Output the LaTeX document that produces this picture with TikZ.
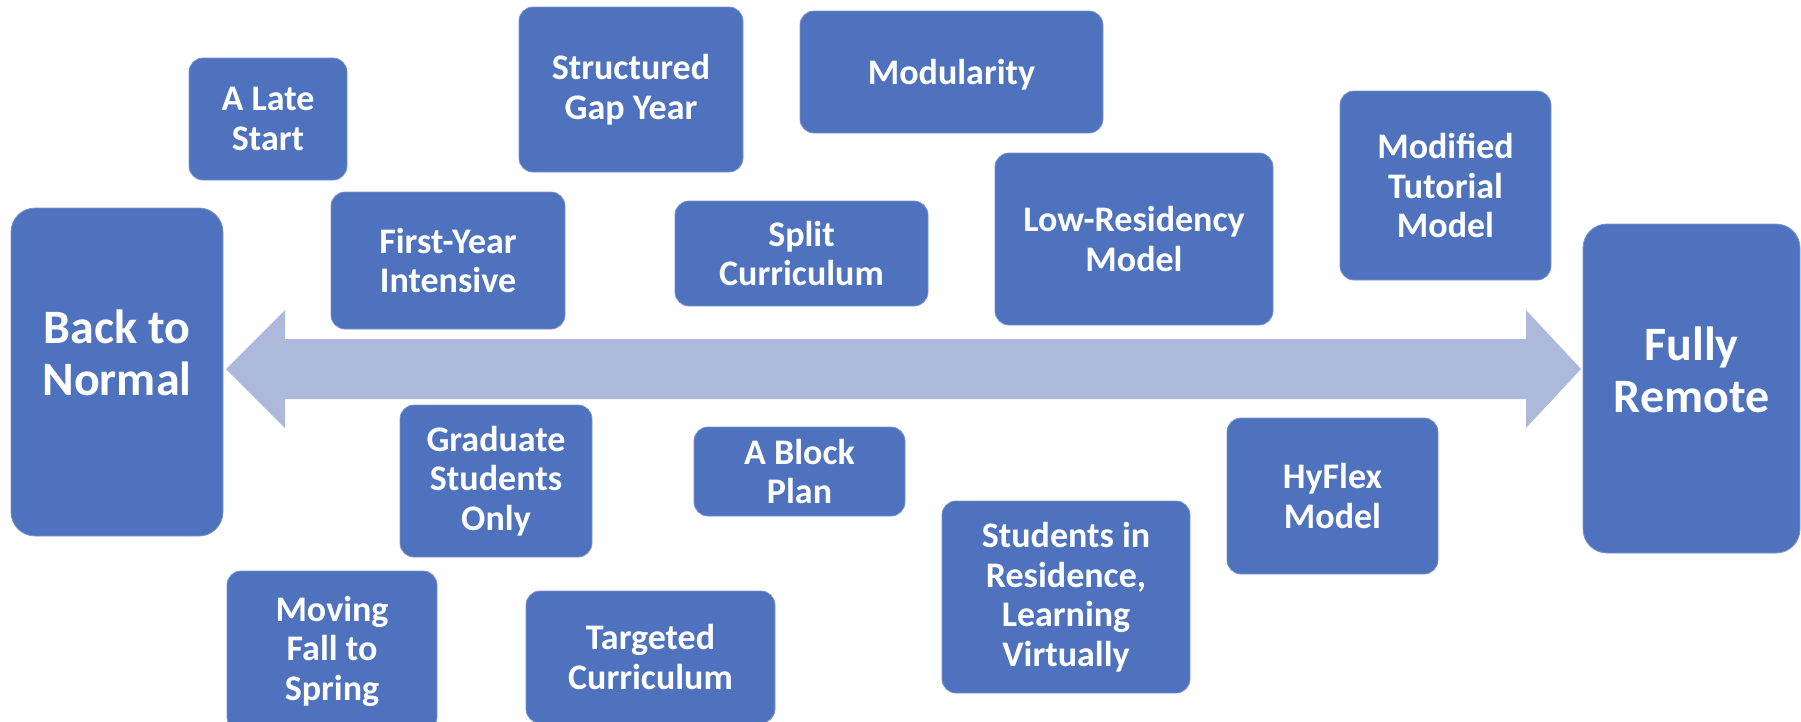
\documentclass[tikz,border=0pt]{standalone}
\usepackage{fontspec}
\setmainfont{Carlito}
\definecolor{boxblue}{RGB}{78,114,190}
\definecolor{axisblue}{RGB}{172,185,219}
\tikzset{
    opt/.style={draw=boxblue!75!white, line width=0.8pt, fill=boxblue, text=white,
        rounded corners=14pt, align=center, inner sep=2pt,
        font=\fontsize{36}{39.5}\selectfont\bfseries},
    pole/.style={opt, rounded corners=24pt, text depth=38pt,
        font=\fontsize{48}{52}\selectfont\bfseries}
}
\begin{document}
\begin{tikzpicture}[x=1pt, y=-1pt]
    \useasboundingbox (0,0) rectangle (1801,721);
    \clip (0,0) rectangle (1801,721);
    % the double arrow between the two ends
    \fill[axisblue] (226,369) -- (285,310) -- (285,339) -- (1526,339) -- (1526,310)
        -- (1581,369) -- (1526,428) -- (1526,399) -- (285,399) -- (285,428) -- cycle;
    % the two ends
    \node[pole, minimum width=212, minimum height=328] (normal) at (117,372) {Back to\\Normal};
    \node[pole, minimum width=217, minimum height=329] (remote) at (1691.5,388.5) {Fully\\Remote};
    % above the arrow
    \node[opt, minimum width=158, minimum height=122] (late) at (268,119) {A Late\\Start};
    \node[opt, minimum width=224, minimum height=165] (gap) at (631,89.5) {Structured\\Gap Year};
    \node[opt, minimum width=303, minimum height=122, text depth=0pt] (modul) at (951.5,72) {Modularity};
    \node[opt, minimum width=211, minimum height=189] (tutorial) at (1445.5,185.5) {Modified\\Tutorial\\Model};
    \node[opt, minimum width=234, minimum height=137] (first) at (448,260.5) {First-Year\\Intensive};
    \node[opt, minimum width=253, minimum height=105] (split) at (801.5,253.5) {Split\\Curriculum};
    \node[opt, minimum width=278, minimum height=172] (lowres) at (1134,239) {Low-Residency\\Model};
    % below the arrow
    \node[opt, minimum width=192, minimum height=152] (grad) at (496,481) {Graduate\\Students\\Only};
    \node[opt, minimum width=211, minimum height=89] (block) at (799.5,471.5) {A Block\\Plan};
    \node[opt, minimum width=248, minimum height=192] (resid) at (1066,597) {Students in\\Residence,\\Learning\\Virtually};
    \node[opt, minimum width=211, minimum height=156, text depth=0pt] (hyflex) at (1332.5,496) {HyFlex\\Model};
    \node[opt, minimum width=210, minimum height=160] (moving) at (332,651) {Moving\\Fall to\\Spring};
    \node[opt, minimum width=249, minimum height=132] (targeted) at (650.5,657) {Targeted\\Curriculum};
\end{tikzpicture}
\end{document}
